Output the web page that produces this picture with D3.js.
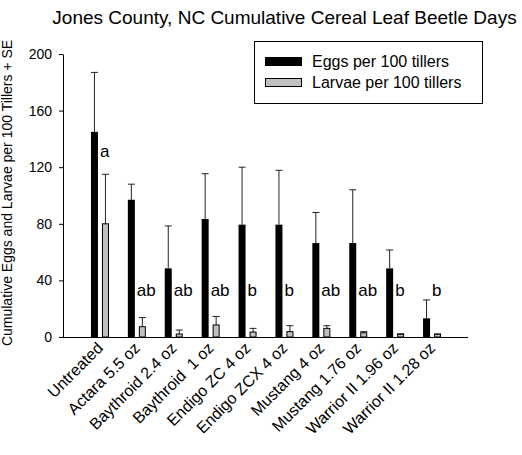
<!DOCTYPE html>
<html>
<head>
<meta charset="utf-8">
<script src="https://cdn.jsdelivr.net/npm/d3@7/dist/d3.min.js"></script>
<style>
  html, body { margin: 0; padding: 0; background: #fff; }
  svg { display: block; font-family: "Liberation Sans", Arial, sans-serif; }
</style>
</head>
<body>
<script>
// ---- data ----
const categories = ["Untreated", "Actara 5.5 oz", "Baythroid 2.4 oz", "Baythroid  1 oz", "Endigo ZC 4 oz",
  "Endigo ZCX 4 oz", "Mustang 4 oz", "Mustang 1.76 oz", "Warrior II 1.96 oz", "Warrior II 1.28 oz"];
const eggs     = [145, 97, 48.5, 83.4, 79.4, 79.4, 66.4, 66.4, 48.5, 13.2];
const eggsSE   = [42, 11, 30, 32, 40.6, 38.4, 21.6, 37.6, 13, 13];
const larvae   = [80, 7.3, 2.1, 8.5, 3.5, 3.8, 6.1, 3, 1.9, 1.9];
const larvaeSE = [35, 6.4, 2.8, 6, 2.6, 4.2, 1.9, 0.8, 0.4, 0.3];
const letters  = ["a", "ab", "ab", "ab", "b", "b", "ab", "ab", "b", "b"];
const letterAt = [127, 29, 29, 29, 29, 29, 29, 29, 29, 29];
const yTicks   = [0, 40, 80, 120, 160, 200];
const seriesNames = ["Eggs per 100 tillers", "Larvae per 100 tillers"];
const seriesColors = ["#000000", "#c0c0c0"];

const W = 522, H = 455;
const svg = d3.select("body").append("svg").attr("width", W).attr("height", H);

const y = d3.scaleLinear().domain([0, 200]).range([337, 54]);
const x = d3.scaleBand().domain(categories).range([81.5, 450.5]).paddingInner(0).paddingOuter(0);
const cx = c => x(c) + x.bandwidth() / 2;
const barW = 7;

// title
svg.append("text").attr("x", 284.5).attr("y", 24).attr("text-anchor", "middle")
  .attr("font-size", 19).attr("fill", "#000")
  .text("Jones County, NC Cumulative Cereal Leaf Beetle Days");

// y axis label
svg.append("text").attr("transform", "translate(12,193) rotate(-90)")
  .attr("text-anchor", "middle").attr("font-size", 14).attr("fill", "#000")
  .text("Cumulative Eggs and Larvae per 100 Tillers + SE");

// y axis
const yAxis = svg.append("g").attr("transform", "translate(63,0)")
  .call(d3.axisLeft(y).tickValues(yTicks).tickSize(4).tickPadding(7).tickSizeOuter(0));
yAxis.select(".domain").attr("stroke", "#000");
yAxis.selectAll(".tick line").attr("stroke", "#000");
yAxis.selectAll(".tick text").attr("font-size", 14).attr("fill", "#000")
  .attr("font-family", "'Liberation Sans', Arial, sans-serif");

// x axis line
svg.append("line").attr("x1", 60).attr("x2", 468).attr("y1", y(0) + 0.5).attr("y2", y(0) + 0.5)
  .attr("stroke", "#000").attr("stroke-width", 1);

// error bars helper
function errBar(g, xc, v, se) {
  const top = y(v + se), base = y(v);
  g.append("line").attr("x1", xc).attr("x2", xc).attr("y1", base).attr("y2", top)
    .attr("stroke", "#222").attr("stroke-width", 1);
  g.append("line").attr("x1", xc - barW / 2).attr("x2", xc + barW / 2).attr("y1", top).attr("y2", top)
    .attr("stroke", "#222").attr("stroke-width", 1);
}

const gBars = svg.append("g");
categories.forEach((c, i) => {
  const c0 = cx(c);
  // eggs bar
  const bx = c0 - 9;
  errBar(gBars, bx + barW / 2, eggs[i], eggsSE[i]);
  gBars.append("rect").attr("x", bx).attr("y", y(eggs[i])).attr("width", barW)
    .attr("height", y(0) - y(eggs[i])).attr("fill", seriesColors[0]);
  // larvae bar
  const lx = c0 + 2;
  errBar(gBars, lx + barW / 2, larvae[i], larvaeSE[i]);
  gBars.append("rect").attr("x", lx + 0.5).attr("y", y(larvae[i])).attr("width", barW - 1)
    .attr("height", Math.max(0, y(0) - y(larvae[i]))).attr("fill", seriesColors[1])
    .attr("stroke", "#000").attr("stroke-width", 1);
  // significance letter
  svg.append("text").attr("x", c0).attr("y", y(letterAt[i])).attr("font-size", 17)
    .attr("fill", "#000").text(letters[i]);
  // x label
  svg.append("text").attr("transform", `translate(${c0 + 4},349) rotate(-45)`)
    .attr("text-anchor", "end").attr("font-size", 16).attr("fill", "#000")
    .style("white-space", "pre").text(c);
});

// legend
const lg = svg.append("g");
lg.append("rect").attr("x", 254.5).attr("y", 41.5).attr("width", 228).attr("height", 62)
  .attr("fill", "#fff").attr("stroke", "#000").attr("stroke-width", 1);
seriesNames.forEach((s, i) => {
  const yy = i === 0 ? 57 : 78;
  lg.append("rect").attr("x", 265.5).attr("y", yy + 0.5).attr("width", 36).attr("height", 8)
    .attr("fill", seriesColors[i]).attr("stroke", "#000").attr("stroke-width", 1);
  lg.append("text").attr("x", 312).attr("y", i === 0 ? 66.5 : 88).attr("font-size", 16)
    .attr("fill", "#000").text(s);
});
</script>
</body>
</html>
